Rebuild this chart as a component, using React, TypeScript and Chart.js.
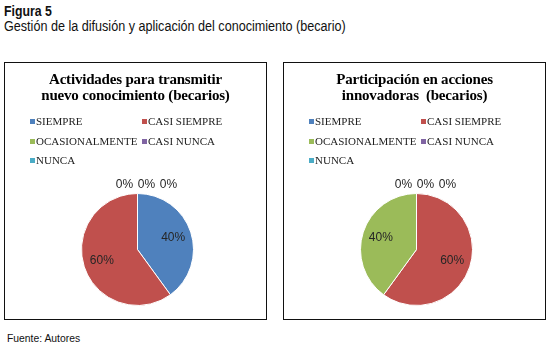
import React, { useEffect, useRef } from "react";
import { Chart, registerables } from "chart.js";

Chart.register(...registerables);

const categories = ["SIEMPRE", "CASI SIEMPRE", "OCASIONALMENTE", "CASI NUNCA", "NUNCA"];
const transmitirValues = [40, 60, 0, 0, 0];
const innovadorasValues = [0, 60, 40, 0, 0];
const sliceColors = ["#4F81BD", "#C0504D", "#9BBB59", "#8064A2", "#4BACC6"];
const transmitirTitle = ["Actividades para transmitir", "nuevo conocimiento (becarios)"];
const innovadorasTitle = ["Participación en acciones", "innovadoras  (becarios)"];
const figureLabel = "Figura 5";
const figureCaption = "Gestión de la difusión y aplicación del conocimiento (becario)";
const sourceText = "Fuente: Autores";

const sansFont = "'Liberation Sans', Arial, sans-serif";
const serifFont = "'Liberation Serif', 'Times New Roman', serif";

const pieLabels = {
  id: "pieLabels",
  afterDatasetsDraw(chart: any) {
    const ctx = chart.ctx;
    const data = chart.data.datasets[0].data as number[];
    const total = data.reduce((a: number, b: number) => a + b, 0);
    const meta = chart.getDatasetMeta(0);
    ctx.save();
    ctx.font = "12px 'Liberation Sans', Arial, sans-serif";
    ctx.fillStyle = "#262626";
    ctx.textAlign = "center";
    ctx.textBaseline = "middle";
    let zeroCount = 0;
    meta.data.forEach((el: any, i: number) => {
      const { x, y, startAngle, endAngle, outerRadius } = el.getProps(
        ["x", "y", "startAngle", "endAngle", "outerRadius"],
        true
      );
      const pct = Math.round((data[i] / total) * 100) + "%";
      if (data[i] > 0) {
        const mid = (startAngle + endAngle) / 2;
        const r = outerRadius * 0.67;
        ctx.fillText(pct, x + Math.cos(mid) * r, y + Math.sin(mid) * r);
      } else {
        const r = outerRadius + 9;
        const tx = x + Math.cos(startAngle) * r - 13 + zeroCount * 22;
        const ty = y + Math.sin(startAngle) * r;
        zeroCount++;
        ctx.fillText(pct, tx, ty);
      }
    });
    ctx.restore();
  },
};

function PieBox({ left, title, values }: { left: number; title: string[]; values: number[] }) {
  const ref = useRef<HTMLCanvasElement | null>(null);
  useEffect(() => {
    if (!ref.current) return;
    const chart = new Chart(ref.current, {
      type: "pie",
      data: {
        labels: categories,
        datasets: [
          {
            data: values,
            backgroundColor: sliceColors,
            borderColor: "#ffffff",
            borderWidth: 1,
          },
        ],
      },
      options: {
        responsive: false,
        animation: false,
        layout: { padding: { left: 76, right: 72, top: 130, bottom: 13 } },
        plugins: {
          legend: { display: false },
          tooltip: { enabled: false },
          title: { display: false },
        },
      },
      plugins: [pieLabels],
    } as any);
    return () => chart.destroy();
  }, []);

  return (
    <div
      style={{
        position: "absolute",
        left,
        top: 62,
        width: 263,
        height: 258,
        border: "1px solid #111",
        boxSizing: "border-box",
        background: "#fff",
      }}
    >
      <canvas ref={ref} width={261} height={256} style={{ position: "absolute", left: 0, top: 0 }} />
      <div
        style={{
          position: "absolute",
          left: 0,
          top: 9,
          width: 261,
          textAlign: "center",
          fontFamily: serifFont,
          fontWeight: "bold",
          fontSize: 15,
          letterSpacing: "-0.2px",
          lineHeight: "15.5px",
          color: "#000",
          whiteSpace: "pre",
        }}
      >
        {title.map((t, i) => (
          <div key={i}>{t}</div>
        ))}
      </div>
      <div
        style={{
          position: "absolute",
          left: 25,
          top: 49,
          width: 230,
          display: "grid",
          gridTemplateColumns: "112px 118px",
          fontFamily: serifFont,
          fontSize: 11,
          lineHeight: "19.5px",
          color: "#222",
          whiteSpace: "nowrap",
        }}
      >
        {categories.map((c, i) => (
          <div key={c} style={{ display: "flex", alignItems: "center" }}>
            <span
              style={{
                display: "inline-block",
                width: 5,
                height: 5,
                background: sliceColors[i],
                marginRight: 1,
              }}
            />
            <span>{c}</span>
          </div>
        ))}
      </div>
    </div>
  );
}

const narrowStyle: React.CSSProperties = {
  position: "absolute",
  fontFamily: sansFont,
  color: "#111",
  whiteSpace: "nowrap",
  transformOrigin: "0 0",
};

export default function App() {
  return (
    <div
      style={{
        position: "absolute",
        left: 0,
        top: 0,
        width: 552,
        height: 348,
        background: "#fff",
        overflow: "hidden",
      }}
    >
      <div style={{ ...narrowStyle, left: 4, top: 2, fontWeight: "bold", fontSize: 15, transform: "scaleX(0.82)" }}>
        {figureLabel}
      </div>
      <div style={{ ...narrowStyle, left: 4, top: 18, fontSize: 14, transform: "scaleX(0.9)" }}>{figureCaption}</div>
      <PieBox left={4} title={transmitirTitle} values={transmitirValues} />
      <PieBox left={283} title={innovadorasTitle} values={innovadorasValues} />
      <div style={{ ...narrowStyle, left: 7, top: 332, fontSize: 11.5, transform: "scaleX(0.9)" }}>{sourceText}</div>
    </div>
  );
}
